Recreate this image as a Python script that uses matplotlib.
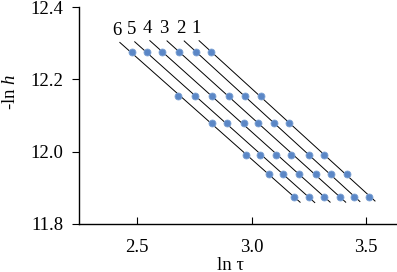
import matplotlib
matplotlib.use("Agg")
import matplotlib.pyplot as plt
import numpy as np

plt.rcParams['font.family'] = ['Liberation Serif', 'DejaVu Serif']
plt.rcParams['mathtext.fontset'] = 'custom'
plt.rcParams['mathtext.rm'] = 'Liberation Serif'
plt.rcParams['mathtext.it'] = 'Liberation Serif:italic'

# -ln h values shared by all series (rows)
neg_ln_h = [12.275, 12.154, 12.080, 11.990, 11.937, 11.875]

# ln tau values for each series
series_names = ["1", "2", "3", "4", "5", "6"]
ln_tau = {
    "1": [2.823, 3.040, 3.164, 3.318, 3.418, 3.514],
    "2": [2.758, 2.970, 3.098, 3.251, 3.347, 3.448],
    "3": [2.683, 2.903, 3.030, 3.172, 3.282, 3.386],
    "4": [2.608, 2.828, 2.967, 3.106, 3.207, 3.318],
    "5": [2.542, 2.752, 2.892, 3.037, 3.139, 3.251],
    "6": [2.477, 2.681, 2.826, 2.975, 3.078, 3.187],
}

x_ticks = [2.5, 3.0, 3.5]
x_ticklabels = ["2.5", "3.0", "3.5"]
y_ticks = [11.8, 12.0, 12.2, 12.4]
y_ticklabels = ["11.8", "12.0", "12.2", "12.4"]

fig = plt.figure(figsize=(3.97, 2.72), dpi=100)
ax = fig.add_axes([79/397, 48/272, 318/397, 217/272])

y = np.array(neg_ln_h)
for name in series_names:
    x = np.array(ln_tau[name])
    k, b = np.polyfit(x, y, 1)
    xl = np.array([x.min() - 0.052, x.max() + 0.025])
    ax.plot(xl, k * xl + b, color='black', lw=0.7, zorder=2)
    ax.plot(x, y, 'o', color='#5b87c6', ms=5, mec='#7aa0d4', mew=0.6, zorder=3)
    ax.annotate(name, (xl[0], k * xl[0] + b), textcoords='offset pixels',
                xytext=(-3, 12), ha='center', va='center', fontsize=13.5)

ax.set_xlim(2.2467, 3.635)
ax.set_ylim(11.8, 12.4)
ax.set_xticks(x_ticks)
ax.set_xticklabels(x_ticklabels)
ax.set_yticks(y_ticks)
ax.set_yticklabels(y_ticklabels)
ax.tick_params(axis='x', direction='in', length=5, width=0.8, pad=11, labelsize=13.5)
ax.tick_params(axis='y', direction='out', length=5, width=0.8, pad=6, labelsize=13.5)
for s in ['top', 'right']:
    ax.spines[s].set_visible(False)
for s in ['left', 'bottom']:
    ax.spines[s].set_linewidth(1.0)

ax.set_xlabel('ln τ', fontsize=13.5)
ax.set_ylabel('-ln $h$', fontsize=13.5)
ax.xaxis.set_label_coords(0.475, -0.15)
ax.yaxis.set_label_coords(-0.19, 0.61)

fig.savefig('out.png', dpi=100)
